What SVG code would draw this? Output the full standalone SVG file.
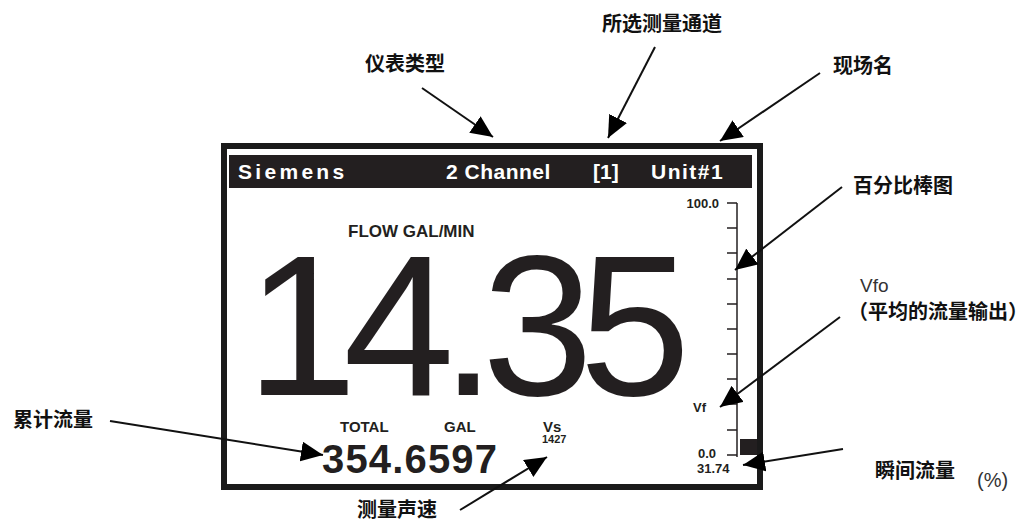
<svg xmlns="http://www.w3.org/2000/svg" width="1029" height="524" viewBox="0 0 1029 524">
<style>
.cn{font-family:"Liberation Sans","Noto Sans CJK SC",sans-serif;font-weight:bold;font-size:20px;fill:#111}
.lat{font-family:"Liberation Sans",Arial,sans-serif;fill:#231f20}
.b{font-weight:bold}
.hd{font-family:"Liberation Sans",Arial,sans-serif;font-weight:bold;font-size:21px;fill:#fff}
.arr{stroke:#111;stroke-width:2;fill:none;marker-end:url(#ah)}
.tick{stroke:#231f20;stroke-width:1.5}
</style>
<defs>
<marker id="ah" markerUnits="userSpaceOnUse" markerWidth="24" markerHeight="20" refX="22" refY="10" orient="auto">
<path d="M0,0 L22,10 L0,20 Z" fill="#000"/>
</marker>
</defs>
<rect width="1029" height="524" fill="#fff"/>
<g id="display">
<rect x="224" y="146" width="536" height="341" fill="#fff" stroke="#1a1a1a" stroke-width="6"/>
<rect x="229" y="155" width="523" height="33" fill="#231f20"/>
<text class="hd" x="238" y="179" letter-spacing="3.3">Siemens</text>
<text class="hd" x="446" y="179" letter-spacing="0.5">2 Channel</text>
<text class="hd" x="593" y="179">[1]</text>
<text class="hd" x="651" y="179" letter-spacing="1.5">Unit#1</text>
<text class="lat b" x="348" y="237" font-size="17">FLOW GAL/MIN</text>
<text class="lat" x="246" y="395" font-size="200" letter-spacing="-14">14.35</text>
<text class="lat b" x="340" y="432" font-size="15">TOTAL</text>
<text class="lat b" x="444" y="432" font-size="15">GAL</text>
<text class="lat b" x="543" y="432" font-size="15">Vs</text>
<text class="lat b" x="542" y="443" font-size="11">1427</text>
<text class="lat b" x="322" y="473" font-size="40" textLength="175">354.6597</text>
</g>
<g id="bargraph">
<line class="tick" x1="737" y1="203" x2="737" y2="457"/>
<path class="tick" d="M727,203H737M727,228H737M727,253H737M727,279H737M727,304H737M727,329H737M727,354H737M727,379H737M727,404H737M727,430H737M727,455H737"/>
<rect x="740" y="439" width="17" height="16" fill="#231f20"/>
<text class="lat b" x="719" y="208" font-size="13" text-anchor="end">100.0</text>
<text class="lat b" x="693" y="412" font-size="13">Vf</text>
<text class="lat b" x="698" y="458" font-size="13">0.0</text>
<text class="lat b" x="697" y="473" font-size="13">31.74</text>
</g>
<g id="labels">
<text class="cn" x="365" y="71">仪表类型</text>
<text class="cn" x="602" y="31" font-size="21">所选测量通道</text>
<text class="cn" x="833" y="73">现场名</text>
<text class="cn" x="853" y="193" font-size="21">百分比棒图</text>
<text x="860" y="292" font-family="Liberation Sans,Arial,sans-serif" font-size="19" fill="#333">Vfo</text>
<text class="cn" x="848" y="319">（平均的流量输出）</text>
<text class="cn" x="875" y="478" font-size="21">瞬间流量</text>
<text x="977" y="487" font-family="Liberation Sans,Arial,sans-serif" font-size="20" fill="#333">(%)</text>
<text class="cn" x="13" y="427">累计流量</text>
<text class="cn" x="357" y="517">测量声速</text>
</g>
<g id="connectors">
<line class="arr" x1="422" y1="88" x2="493" y2="137"/>
<line class="arr" x1="655" y1="47" x2="608" y2="138"/>
<line class="arr" x1="820" y1="73" x2="720" y2="141"/>
<line class="arr" x1="842" y1="187" x2="735" y2="270"/>
<line class="arr" x1="840" y1="317" x2="720" y2="407"/>
<line class="arr" x1="843" y1="449" x2="743" y2="465"/>
<line class="arr" x1="110" y1="421" x2="323" y2="455"/>
<line class="arr" x1="460" y1="510" x2="547" y2="457"/>
</g>
</svg>
